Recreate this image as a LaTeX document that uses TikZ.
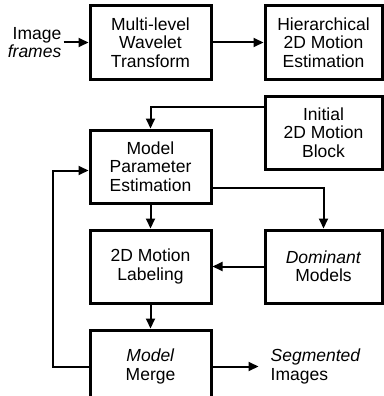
\documentclass[tikz,border=0pt]{standalone}
\usepackage{fontspec}
\setmainfont{Liberation Sans}
\usepackage{tikz}
\usetikzlibrary{arrows.meta, positioning}

\begin{document}
\begin{tikzpicture}[
  x=1pt, y=1pt,
  box/.style={rectangle, draw, line width=3pt, minimum width=121pt, minimum height=73pt, align=center, inner sep=2pt},
  rbox/.style={box, minimum width=117pt},
  arrow/.style={-{Triangle[length=10pt, width=9pt]}, line width=2pt},
  txt/.style={inner sep=2pt},
  every node/.style={font=\fontsize{17.5}{18.3}\selectfont},
]
\useasboundingbox (0,0) rectangle (383,-396);

% Boxes
\node[box] (mwt) at (150.5,-42.5) {Multi-level\\Wavelet\\Transform};
\node[rbox, right=51pt of mwt] (hme) {Hierarchical\\2D Motion\\Estimation};
\node[rbox, below=14pt of hme] (init) {Initial\\2D Motion\\Block};
\node[box, below=48pt of mwt] (mpe) {Model\\Parameter\\Estimation};
\node[box, below=24pt of mpe] (lab) {2D Motion\\Labeling};
\node[rbox, right=51pt of lab] (dom) {\textit{Dominant}\\Models};
\node[box, below=24pt of lab] (merge) {\textit{Model}\\Merge};

% Input and output
\node[txt, left=25pt of mwt, align=right] (in) {Image\\\textit{frames}};
\node[txt, right=46pt of merge, align=left, inner xsep=12pt] (seg) {\textit{Segmented}\\Images};

% Arrows
\draw[arrow] (in) -- (mwt);
\draw[arrow] (mwt) -- (hme);
\draw[arrow] ([yshift=26pt]init.west) -| (mpe);
\draw[arrow] (mpe) -- (lab);
\draw[arrow] ([yshift=-21pt]mpe.east) -| (dom);
\draw[arrow] (dom) -- (lab);
\draw[arrow] (lab) -- (merge);
\draw[arrow] (merge) -- (seg);
\draw[arrow] (merge.west) -- ++(-36pt,0) |- ([yshift=-4pt]mpe.west);
\end{tikzpicture}
\end{document}
